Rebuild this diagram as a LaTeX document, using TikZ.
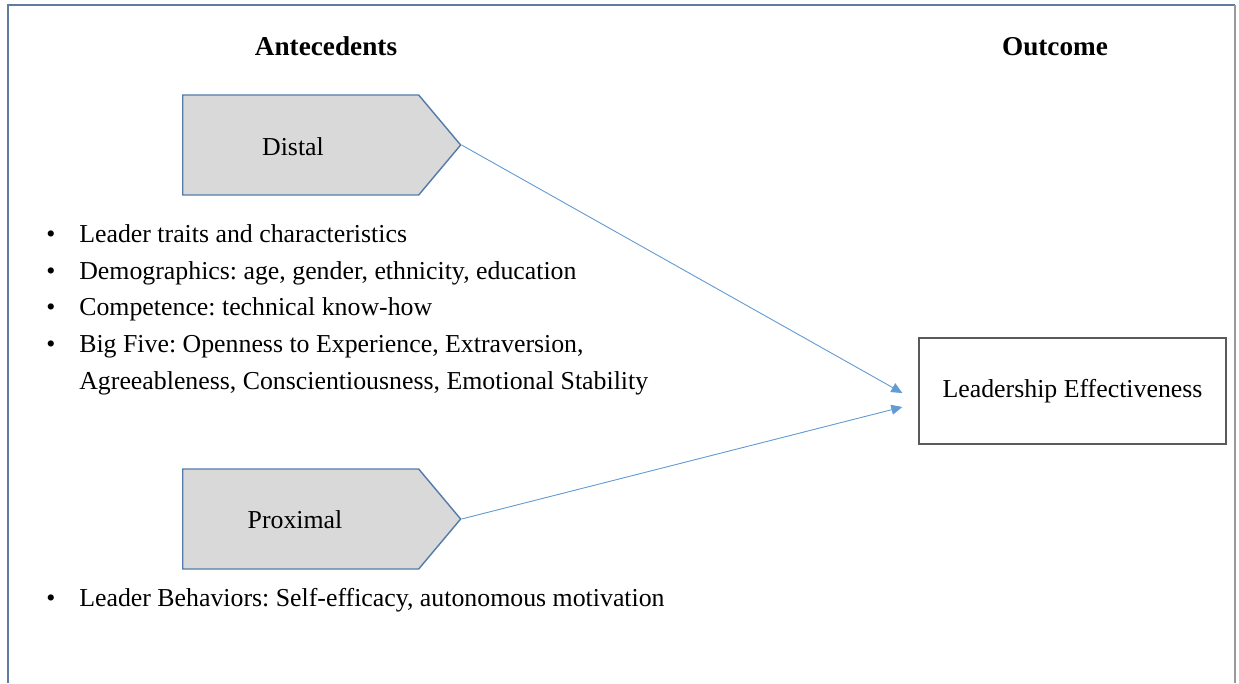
\documentclass[tikz,border=0pt]{standalone}
\usepackage{fontspec}
\setmainfont{Liberation Serif}
\usepackage{tikz}
\usetikzlibrary{positioning, arrows.meta, shapes.symbols, calc}
\definecolor{framecol}{RGB}{96,124,160}
\definecolor{shapeedge}{RGB}{82,122,170}
\definecolor{shapefill}{RGB}{217,217,217}
\definecolor{linkcol}{RGB}{100,155,210}
\definecolor{boxedge}{RGB}{90,90,90}
\tikzset{
    antbox/.style={draw=shapeedge, line width=0.8pt, fill=shapefill, signal, signal to=east, signal pointer angle=100, minimum width=5.56cm, minimum height=2cm, inner sep=0pt},
    outbox/.style={draw=boxedge, line width=0.8pt, minimum width=6.14cm, minimum height=2.12cm, align=center, font=\fontsize{14.7}{17}\selectfont},
    lbl/.style={font=\fontsize{14.7}{17}\selectfont, inner sep=0pt},
    head/.style={font=\fontsize{15.5}{18}\selectfont\bfseries, inner sep=0pt},
    bullets/.style={font=\fontsize{14.7}{21}\selectfont, inner sep=0pt, align=left},
    linkarrow/.style={-{Triangle[length=0.22cm, width=0.2cm]}, draw=linkcol, fill=linkcol, line width=0.5pt},
}

\begin{document}
\frenchspacing
\begin{tikzpicture}[x=0.02cm, y=-0.02cm]
        \useasboundingbox (0,0) rectangle (1239,683);
        % frame
        \draw[framecol, line width=0.8pt] (8,683) -- (8,5) -- (1235,5);
        \draw[black!40, line width=0.8pt] (1235,5) -- (1235,683);
        % headings
        \node[head, anchor=base] (anthead) at (326,55) {Antecedents};
        \node[head, anchor=base] (outhead) at (1055,55) {Outcome};
        % antecedent shapes
        \node[antbox, anchor=west] (distal) at (182,145) {};
        \node[lbl, anchor=base] (distaltxt) at (293,155) {Distal};
        \node[antbox, anchor=west] (proximal) at (182,519) {};
        \node[lbl, anchor=base] (proximaltxt) at (295,528) {Proximal};
        % lists
        \node[bullets, anchor=north west] (distallist) at (46,216) {%
            \begin{tabular}{@{}p{0.66cm}@{}l@{}}
            \textbullet & Leader traits and characteristics\\
            \textbullet & Demographics: age, gender, ethnicity, education\\
            \textbullet & Competence: technical know-how\\
            \textbullet & Big Five: Openness to Experience, Extraversion,\\
                        & Agreeableness, Conscientiousness, Emotional Stability
            \end{tabular}};
        \node[bullets, anchor=north west] (proxlist) at (46,580) {%
            \begin{tabular}{@{}p{0.66cm}@{}l@{}}
            \textbullet & Leader Behaviors: Self-efficacy, autonomous motivation
            \end{tabular}};
        % outcome
        \node[outbox] (eff) at (1072.5,391) {Leadership Effectiveness};
        \coordinate (tipA) at ($(eff.west)+(-16,2)$);
        \coordinate (tipB) at ($(eff.west)+(-16,16)$);
        \draw[linkarrow] (distal.east) -- (tipA);
        \draw[linkarrow] (proximal.east) -- (tipB);
    \end{tikzpicture}
\end{document}
